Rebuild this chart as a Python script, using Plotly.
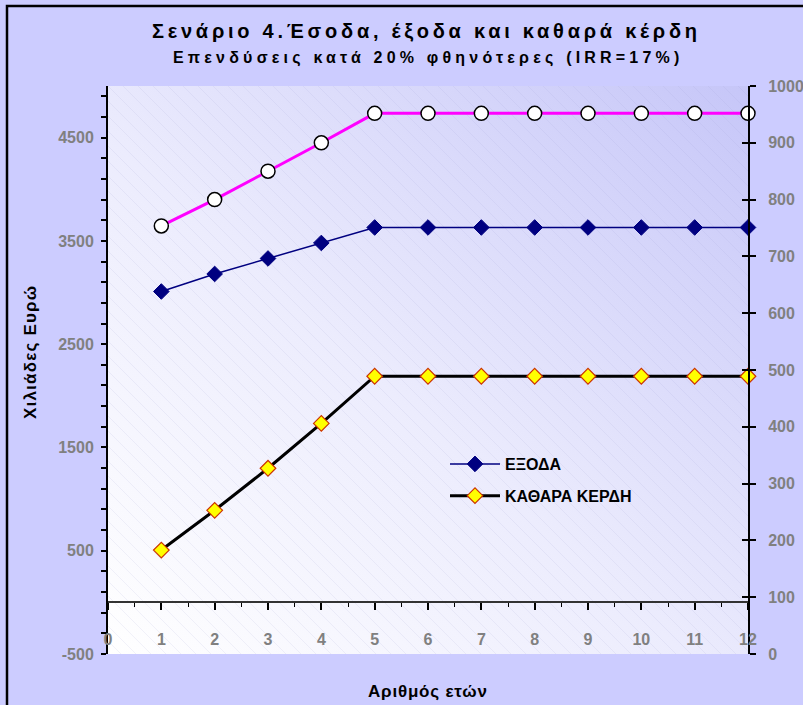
import base64
import plotly.graph_objects as go

# ---------------- data ----------------
years = [1, 2, 3, 4, 5, 6, 7, 8, 9, 10, 11, 12]
esoda = [3645, 3900, 4175, 4450, 4735, 4735, 4735, 4735, 4735, 4735, 4735, 4735]   # left axis
exoda = [3010, 3180, 3330, 3480, 3630, 3630, 3630, 3630, 3630, 3630, 3630, 3630]   # left axis
kerdi = [183, 253, 327, 406, 489, 489, 489, 489, 489, 489, 489, 489]               # right axis
x_ticks = list(range(0, 13))
left_ticks = [-500, 500, 1500, 2500, 3500, 4500]
right_ticks = [0, 100, 200, 300, 400, 500, 600, 700, 800, 900, 1000]

title1 = "Σενάριο 4.Έσοδα, έξοδα και καθαρά κέρδη"
title2 = "Επενδύσεις κατά 20% φθηνότερες (IRR=17%)"
ytitle = "Χιλιάδες Ευρώ"
xtitle = "Αριθμός ετών"
name_exoda = "ΕΞΟΔΑ"
name_kerdi = "ΚΑΘΑΡΑ ΚΕΡΔΗ"
name_esoda = "ΕΣΟΔΑ"

# ---------------- layout constants ----------------
W, H = 803, 705
ML, MR, MT, MB = 108, 55, 86, 51
PW, PH = W - ML - MR, H - MT - MB

def px2x(px):
    return (px - ML) / PW

def py2y(py):
    return (H - MB - py) / PH

FONT = "Liberation Sans, Arial, sans-serif"
GRAY = "#808080"

# plot-area gradient + hatching as an SVG background image
svg = f'''<svg xmlns="http://www.w3.org/2000/svg" width="{PW}" height="{PH}" viewBox="0 0 {PW} {PH}" preserveAspectRatio="none">
<defs>
<linearGradient id="g" x1="0" y1="1" x2="1" y2="0">
<stop offset="0" stop-color="#FFFFFF"/>
<stop offset="0.45" stop-color="#ECECFD"/>
<stop offset="1" stop-color="#C6C6F8"/>
</linearGradient>
<pattern id="h" patternUnits="userSpaceOnUse" width="15" height="15">
<path d="M0,0 L15,15 M-5,10 L5,20 M10,-5 L20,5" stroke="#9A9AD0" stroke-opacity="0.16" stroke-width="0.8"/>
</pattern>
</defs>
<rect width="{PW}" height="{PH}" fill="url(#g)"/>
<rect width="{PW}" height="{PH}" fill="url(#h)"/>
</svg>'''
svg_uri = "data:image/svg+xml;base64," + base64.b64encode(svg.encode()).decode()

def spaced(text, ls):
    return f"<span style='letter-spacing:{ls}px'>{text}</span>"

fig = go.Figure()

fig.add_trace(go.Scatter(
    x=years, y=esoda, name=name_esoda, mode="lines+markers", showlegend=False,
    line=dict(color="#FF00FF", width=3),
    marker=dict(symbol="circle", size=14, color="white", line=dict(color="black", width=1.5)),
    yaxis="y", cliponaxis=False,
))
fig.add_trace(go.Scatter(
    x=years, y=exoda, name=name_exoda, mode="lines+markers", legendgroup="a",
    line=dict(color="#000080", width=1.5),
    marker=dict(symbol="diamond", size=12, color="#000080", line=dict(color="#000080", width=1)),
    yaxis="y", cliponaxis=False,
))
fig.add_trace(go.Scatter(
    x=years, y=kerdi, name=name_kerdi, mode="lines+markers", legendgroup="b",
    line=dict(color="black", width=3),
    marker=dict(symbol="diamond", size=12, color="#FFFF00", line=dict(color="#CC3300", width=1.2)),
    yaxis="y2", cliponaxis=False,
))
# invisible trace to carry crossing ticks on the right axis
fig.add_trace(go.Scatter(x=[None], y=[None], yaxis="y3", showlegend=False, hoverinfo="skip"))

tickfont = dict(family=FONT, size=16, color=GRAY, weight="bold")

fig.update_layout(
    width=W, height=H, autosize=False,
    margin=dict(l=ML, r=MR, t=MT, b=MB, pad=0, autoexpand=False),
    paper_bgcolor="#CCCCFF",
    plot_bgcolor="rgba(0,0,0,0)",
    showlegend=True,
    legend=dict(
        x=px2x(445), y=py2y(447), xanchor="left", yanchor="top",
        bgcolor="rgba(0,0,0,0)", borderwidth=0,
        font=dict(family=FONT, size=16, color="black", weight="bold"),
        tracegroupgap=8, itemwidth=50,
    ),
    xaxis=dict(
        range=[0, 12], tickvals=x_ticks, ticktext=[str(v) for v in x_ticks],
        anchor="free", position=(0 - (-500)) / 5500, automargin=False,
        showline=True, linecolor="#333333", linewidth=2,
        ticks="outside", ticklen=7, tickcolor="black", tickwidth=1.5,
        minor=dict(dtick=0.5, tick0=0, ticks="outside", ticklen=4, tickcolor="black", tickwidth=1.2),
        showgrid=False, zeroline=False,
        tickfont=tickfont, ticklabelstandoff=15,
    ),
    yaxis=dict(
        range=[-500, 5000], tickvals=left_ticks, ticktext=[str(v) for v in left_ticks],
        automargin=False,
        showline=True, linecolor="black", linewidth=2,
        ticks="outside", ticklen=5, tickcolor="black", tickwidth=1.5,
        minor=dict(tick0=-500, dtick=200, ticks="outside", ticklen=5, tickcolor="black", tickwidth=1.5),
        showgrid=False, zeroline=False,
        tickfont=tickfont, ticklabelstandoff=4,
    ),
    yaxis2=dict(
        range=[0, 1000], tickvals=right_ticks, ticktext=[str(v) for v in right_ticks],
        overlaying="y", side="right", anchor="x", automargin=False,
        showline=True, linecolor="black", linewidth=2,
        ticks="outside", ticklen=6, tickcolor="black", tickwidth=1.5,
        showgrid=False, zeroline=False,
        tickfont=tickfont, ticklabelstandoff=9,
    ),
    yaxis3=dict(
        range=[0, 1000], tickvals=right_ticks, ticktext=["" for _ in right_ticks],
        overlaying="y", side="right", anchor="x", automargin=False,
        showline=False, ticks="inside", ticklen=6, tickcolor="black", tickwidth=1.5,
        showgrid=False, zeroline=False, showticklabels=False,
    ),
    images=[dict(
        source=svg_uri, xref="paper", yref="paper", x=0, y=1, sizex=1, sizey=1,
        xanchor="left", yanchor="top", sizing="stretch", layer="below",
    )],
    shapes=[dict(
        type="rect", xref="paper", yref="paper",
        x0=px2x(7), y0=py2y(712), x1=px2x(812), y1=py2y(6),
        line=dict(color="black", width=2.5), fillcolor="rgba(0,0,0,0)", layer="above",
    )],
    annotations=[
        dict(text=spaced(title1, 3.75), xref="paper", yref="paper", x=px2x(426), y=py2y(31),
             xanchor="center", yanchor="middle", showarrow=False,
             font=dict(family=FONT, size=20, color="black", weight="bold")),
        dict(text=spaced(title2, 4.2), xref="paper", yref="paper", x=px2x(428), y=py2y(58),
             xanchor="center", yanchor="middle", showarrow=False,
             font=dict(family=FONT, size=16, color="black", weight="bold")),
        dict(text=spaced(ytitle, 1.2), xref="paper", yref="paper", x=px2x(30), y=py2y(352),
             xanchor="center", yanchor="middle", showarrow=False, textangle=-90,
             font=dict(family=FONT, size=17, color="black", weight="bold")),
        dict(text=spaced(xtitle, 0.8), xref="paper", yref="paper", x=px2x(428), y=py2y(691),
             xanchor="center", yanchor="middle", showarrow=False,
             font=dict(family=FONT, size=17, color="black", weight="bold")),
    ],
)

fig.write_html(
    "out.html",
    config={"displayModeBar": False},
    post_script="document.body.style.margin='0';document.body.style.overflow='hidden';",
)
